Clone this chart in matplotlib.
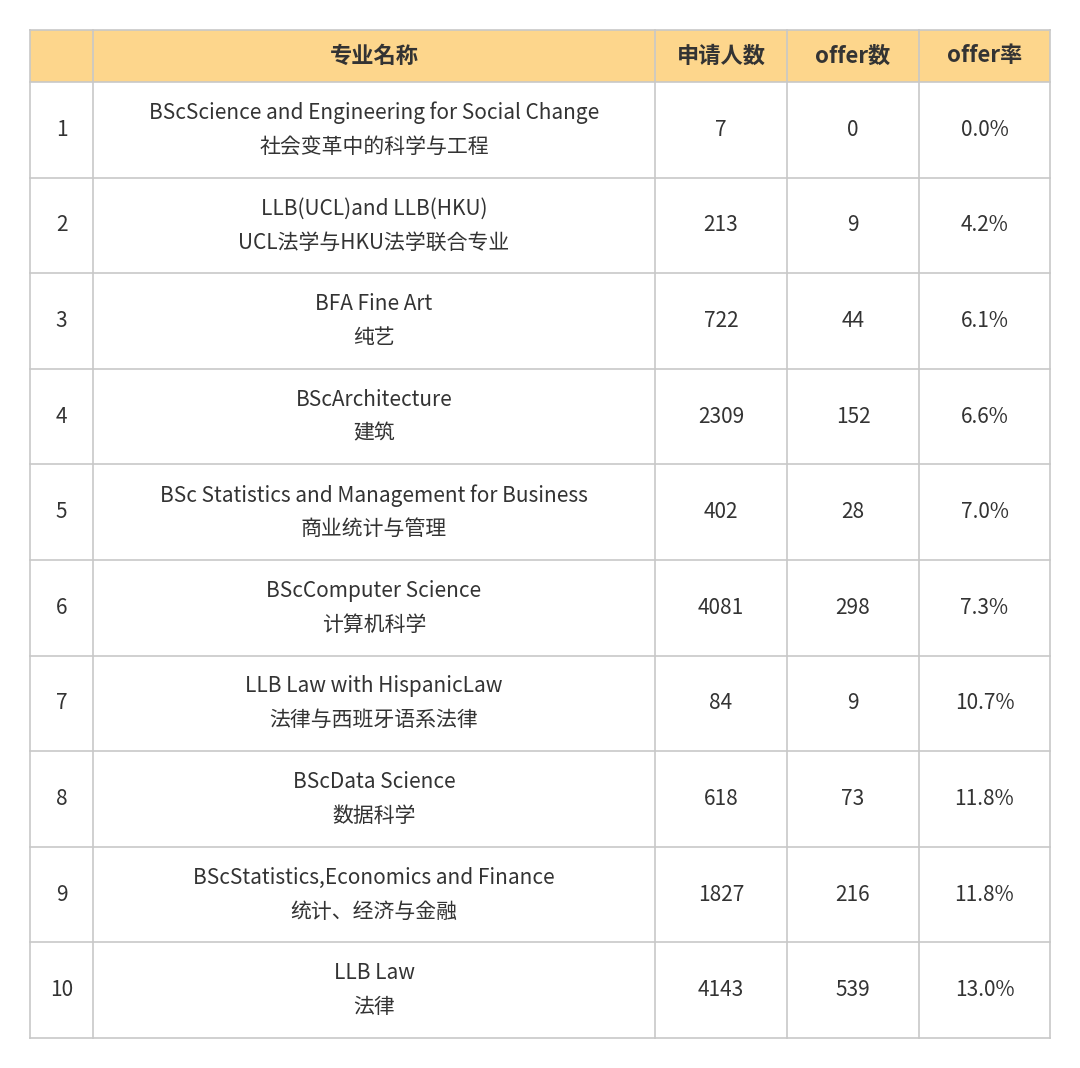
import matplotlib
matplotlib.use("Agg")
import matplotlib.pyplot as plt
from matplotlib.patches import Rectangle
from matplotlib import font_manager as fm

headers = ["", "专业名称", "申请人数", "offer数", "offer率"]
names_en = ["BScScience and Engineering for Social Change", "LLB(UCL)and LLB(HKU)", "BFA Fine Art",
            "BScArchitecture", "BSc Statistics and Management for Business", "BScComputer Science",
            "LLB Law with HispanicLaw", "BScData Science", "BScStatistics,Economics and Finance", "LLB Law"]
names_cn = ["社会变革中的科学与工程", "UCL法学与HKU法学联合专业", "纯艺", "建筑", "商业统计与管理",
            "计算机科学", "法律与西班牙语系法律", "数据科学", "统计、经济与金融", "法律"]
applicants = [7, 213, 722, 2309, 402, 4081, 84, 618, 1827, 4143]
offers = [0, 9, 44, 152, 28, 298, 9, 73, 216, 539]
rates = ["0.0%", "4.2%", "6.1%", "6.6%", "7.0%", "7.3%", "10.7%", "11.8%", "11.8%", "13.0%"]

cjk = [f.name for f in fm.fontManager.ttflist if "CJK" in f.name]
pref = [n for n in ["Noto Sans CJK SC", "Noto Sans CJK JP", "Noto Sans CJK TC", "Noto Sans CJK KR"] if n in cjk]
fam = pref[0] if pref else (cjk[0] if cjk else "DejaVu Sans")
if not cjk:
    import glob
    for p in glob.glob("/usr/share/fonts/**/*CJK*", recursive=True):
        try:
            fm.fontManager.addfont(p)
        except Exception:
            pass
    cjk = [f.name for f in fm.fontManager.ttflist if "CJK" in f.name]
    fam = cjk[0] if cjk else "DejaVu Sans"
plt.rcParams["font.family"] = [fam, "DejaVu Sans"]

W, H = 1080, 1068
fig = plt.figure(figsize=(W/100, H/100), dpi=100)
ax = fig.add_axes([0, 0, 1, 1])
ax.set_xlim(0, W); ax.set_ylim(H, 0); ax.axis("off")

cols = [30, 93, 655, 787, 919, 1050]
top, hb, bottom = 30, 82, 1038
n = len(names_en)
rh = (bottom - hb) / n
line = "#c8c8c8"
tc = "#333333"

ax.add_patch(Rectangle((cols[0], top), cols[-1]-cols[0], hb-top, facecolor="#fdd68c", edgecolor="none"))
for i, h in enumerate(headers):
    ax.text((cols[i]+cols[i+1])/2, (top+hb)/2, h, ha="center", va="center", fontsize=16, fontweight="bold", color=tc)

for r in range(n):
    yc = hb + rh*(r+0.5)
    vals = [str(r+1), None, str(applicants[r]), str(offers[r]), rates[r]]
    for i, v in enumerate(vals):
        xc = (cols[i]+cols[i+1])/2
        if i == 1:
            ax.text(xc, yc-17, names_en[r], ha="center", va="center", fontsize=15, color=tc)
            ax.text(xc, yc+17, names_cn[r], ha="center", va="center", fontsize=15, color=tc)
        else:
            ax.text(xc, yc, v, ha="center", va="center", fontsize=15, color=tc)

for x in cols:
    ax.plot([x, x], [top, bottom], color=line, lw=1.2)
ys = [top, hb] + [hb + rh*(r+1) for r in range(n)]
for y in ys:
    ax.plot([cols[0], cols[-1]], [y, y], color=line, lw=1.2)

fig.savefig("out.png", dpi=100, facecolor="white")
